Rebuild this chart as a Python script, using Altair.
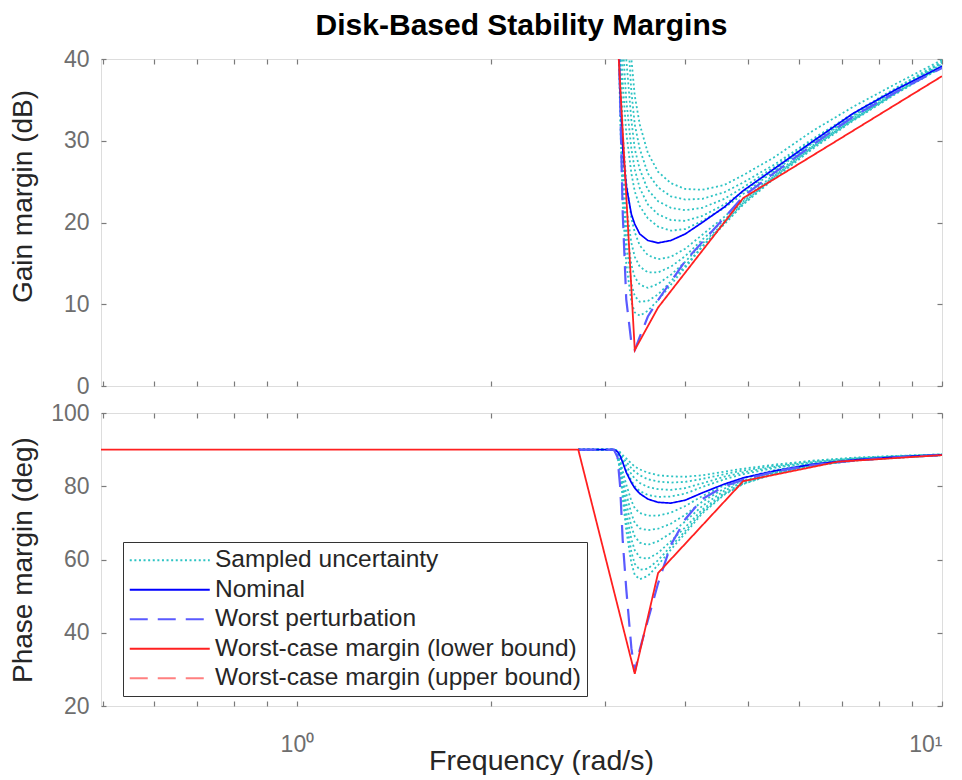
import altair as alt
import pandas as pd

FONT = "Liberation Sans"

# ---------------- data ----------------
SERIES = [
    "Sampled uncertainty",
    "Nominal",
    "Worst perturbation",
    "Worst-case margin (lower bound)",
    "Worst-case margin (upper bound)",
]
COLORS = ["#2ec4c4", "#0000ff", "#5a5aff", "#ff2020", "#ff8080"]
DASHES = [[2, 2.6], [1, 0], [18, 10], [1, 0], [18, 10]]

f_start = 0.497      # left edge of the frequency axis
f_flat = 2.73        # start of the drawn flat part for sampled / nominal / worst curves
freq_grid = [3.10, 3.14, 3.17, 3.20, 3.24, 3.30, 3.34, 3.40, 3.50, 3.63,
             3.80, 4.00, 4.25, 4.60, 4.92, 5.50, 6.30, 7.30, 8.50, 10.0]

nominal_gain = [80, 48, 36, 29, 24.5, 21.0, 19.8, 18.6, 17.8, 17.5,
                17.8, 18.6, 20.0, 21.9, 23.9, 26.6, 29.9, 33.4, 36.3, 39.1]
nominal_phase = [90, 89.5, 88.3, 86.5, 83.8, 81.0, 79.5, 78.0, 76.5, 75.6,
                 75.4, 76.2, 78.2, 80.6, 82.3, 84.2, 86.0, 87.2, 88.0, 88.6]

worst_gain = [90, 48, 35, 21, 10.6, 5.3, 4.4, 6.0, 8.5, 10.5,
              12.8, 15.3, 17.6, 20.6, 23.2, 26.1, 29.5, 33.0, 36.0, 38.9]
worst_phase = [90, 88, 80, 65, 52, 35.8, 29.3, 35.4, 43.4, 53.5,
               64, 71, 76.5, 80.0, 81.8, 84.0, 85.8, 87.0, 87.9, 88.5]

red_freq = [2.73, 3.34, 3.63, 4.92, 6.90, 10.0]
red_gain = [130, 4.4, 9.6, 23.0, 30.1, 37.9]
red_phase = [90, 28.8, 56.3, 81.4, 86.7, 88.5]

cyan_gain = [
    [99, 99, 80, 65, 52, 40, 35.5, 32, 28.5, 26.2, 24.8, 24.1, 24.0, 24.6, 25.8, 28.0, 31.2, 34.2, 37.0, 39.9],
    [99, 99, 75, 58, 46, 36, 32, 29, 26, 24.3, 23.2, 22.8, 22.9, 23.7, 24.9, 27.1, 30.2, 33.4, 36.5, 39.7],
    [99, 90, 62, 48, 40, 32.5, 29, 26.5, 24, 22.6, 21.8, 21.5, 21.8, 22.9, 24.3, 26.8, 30.0, 33.3, 36.4, 39.6],
    [99, 80, 55, 42, 35, 29, 26.5, 24.2, 22.2, 21.0, 20.3, 20.2, 20.8, 22.2, 23.8, 26.5, 29.8, 33.1, 36.3, 39.5],
    [99, 70, 48, 37, 31, 26, 23.8, 22, 20.5, 19.5, 19.0, 19.2, 20.2, 21.8, 23.5, 26.3, 29.7, 33.0, 36.2, 39.4],
    [99, 62, 42, 31, 25, 20.5, 18.8, 17.2, 16.0, 15.5, 15.8, 16.8, 18.5, 20.7, 22.8, 25.9, 29.4, 32.8, 36.0, 39.2],
    [99, 58, 39, 28, 22, 17.5, 15.8, 14.6, 13.9, 13.9, 14.6, 15.9, 17.9, 20.3, 22.6, 25.7, 29.3, 32.7, 35.9, 39.1],
    [99, 55, 37, 26, 19.5, 14.8, 13.3, 12.4, 12.0, 12.5, 13.6, 15.2, 17.4, 20.0, 22.4, 25.6, 29.2, 32.6, 35.9, 39.1],
    [99, 52, 35, 24, 17.5, 12.5, 11.0, 10.3, 10.4, 11.2, 12.8, 14.7, 17.1, 19.9, 22.3, 25.5, 29.1, 32.6, 35.8, 39.0],
    [99, 50, 33, 22, 15, 10.3, 9.0, 8.6, 9.2, 10.5, 12.4, 14.5, 17.0, 19.8, 22.2, 25.4, 29.0, 32.5, 35.8, 39.0],
]
cyan_phase = [
    [90, 89.8, 89.3, 88.5, 87.6, 86.2, 85.4, 84.6, 83.7, 83.0, 82.7, 82.6, 83.0, 84.0, 84.8, 85.9, 87.0, 87.8, 88.3, 88.7],
    [90, 89.7, 89.0, 87.9, 86.7, 84.9, 84.0, 83.0, 81.9, 81.3, 81.0, 81.2, 82.0, 83.3, 84.3, 85.6, 86.8, 87.7, 88.2, 88.7],
    [90, 89.6, 88.6, 87.2, 85.6, 83.3, 82.1, 80.9, 79.8, 79.2, 79.0, 79.5, 80.8, 82.6, 83.8, 85.3, 86.6, 87.6, 88.2, 88.7],
    [90, 89.5, 88.2, 86.4, 84.4, 81.5, 80.0, 78.7, 77.6, 77.1, 77.2, 78.0, 79.8, 81.9, 83.3, 85.0, 86.4, 87.5, 88.1, 88.6],
    [90, 89.2, 87.2, 84.0, 80.5, 76.0, 74.0, 72.7, 72.0, 72.0, 72.8, 74.6, 77.3, 80.3, 82.2, 84.4, 86.1, 87.3, 88.0, 88.6],
    [90, 89.0, 86.6, 82.5, 78.0, 72.5, 70.0, 68.5, 68.0, 68.4, 69.8, 72.2, 75.8, 79.4, 81.6, 84.0, 85.9, 87.2, 87.9, 88.5],
    [90, 88.8, 86.0, 81.0, 75.5, 69.0, 66.3, 64.6, 64.0, 65.0, 67.2, 70.4, 74.6, 78.8, 81.2, 83.8, 85.8, 87.1, 87.9, 88.5],
    [90, 88.6, 85.3, 79.5, 73.0, 65.5, 62.5, 60.6, 60.2, 61.8, 65.0, 68.8, 73.6, 78.2, 80.9, 83.6, 85.7, 87.0, 87.9, 88.5],
    [90, 88.4, 84.6, 78.0, 70.5, 62.0, 58.8, 57.2, 57.5, 59.8, 63.6, 67.8, 73.0, 77.9, 80.7, 83.5, 85.6, 87.0, 87.8, 88.5],
    [90, 88.2, 84.0, 76.5, 68.0, 59.0, 55.8, 54.6, 55.5, 58.5, 62.7, 67.2, 72.6, 77.7, 80.6, 83.4, 85.6, 87.0, 87.8, 88.5],
]

x_ticks = [0.5, 0.6, 0.7, 0.8, 0.9, 1, 2, 3, 4, 5, 6, 7, 8, 9, 10]
x_label_ticks = [1, 10]
gain_ticks = [0, 10, 20, 30, 40]
phase_ticks = [20, 40, 60, 80, 100]


# ---------------- tables ----------------
def rows(freqs, vals, series, curve):
    return [dict(freq=f, val=v, series=series, curve=curve) for f, v in zip(freqs, vals)]


def build(kind):
    cy = []
    for i in range(len(cyan_gain)):
        if kind == "gain":
            cy += rows(freq_grid, cyan_gain[i], SERIES[0], f"c{i}")
        else:
            cy += rows([f_flat] + freq_grid, [90] + cyan_phase[i], SERIES[0], f"c{i}")
    if kind == "gain":
        nom = rows(freq_grid, nominal_gain, SERIES[1], "n")
        wst = rows(freq_grid, worst_gain, SERIES[2], "w")
        red = rows(red_freq, red_gain, SERIES[3], "r")
    else:
        nom = rows([f_flat] + freq_grid, [90] + nominal_phase, SERIES[1], "n")
        wst = rows([f_flat] + freq_grid, [90] + worst_phase, SERIES[2], "w")
        red = rows([f_start] + red_freq, [90] + red_phase, SERIES[3], "r")
    return [pd.DataFrame(d) for d in (cy, nom, wst, red)]


AX_GRAY = "#7a7a7a"
LBL_GRAY = "#6e6e6e"
TXT = "#262626"


def panel(kind, ydomain, yticks, ytitle, bottom, legend, title=None, title_y=None):
    dfs = build(kind)
    xs = alt.Scale(type="log", domain=[f_start, 10], nice=False)
    ys = alt.Scale(domain=ydomain, nice=False, zero=False)

    def enc_color():
        return alt.Color("series:N", scale=alt.Scale(domain=SERIES, range=COLORS),
                         legend=legend)

    def enc_dash():
        return alt.StrokeDash("series:N", scale=alt.Scale(domain=SERIES, range=DASHES),
                              legend=legend)

    tick_axis = dict(labels=False, domain=False, ticks=True, tickSize=5, grid=False,
                     title=None, tickColor=AX_GRAY, tickWidth=1.2, offset=-5)

    xaxis_main = dict(orient="bottom", values=x_label_ticks, ticks=False, domain=False, grid=False,
                      labels=bottom, labelFont=FONT, labelFontSize=23, labelColor=LBL_GRAY,
                      labelPadding=27,
                      labelExpr="datum.value == 1 ? '10⁰' : (datum.value == 10 ? '10¹' : '')")
    if bottom:
        xaxis_main.update(title="Frequency (rad/s)", titleFont=FONT, titleFontSize=28.5,
                          titleFontWeight="normal", titleColor=TXT, titleY=40, titleX=440)
    else:
        xaxis_main.update(title=None)
    yaxis_main = dict(orient="left", values=yticks, ticks=False, domain=False, grid=False,
                      labelFont=FONT, labelFontSize=23, labelColor=LBL_GRAY, labelPadding=12,
                      title=ytitle, titleFont=FONT, titleFontSize=28, titleFontWeight="normal",
                      titleColor=TXT, titleX=-64)
    if title_y is not None:
        yaxis_main["titleY"] = title_y

    l1 = alt.Chart(dfs[0]).mark_line(clip=True, strokeWidth=1.8).encode(
        x=alt.X("freq:Q", scale=xs, axis=alt.Axis(**xaxis_main)),
        y=alt.Y("val:Q", scale=ys, axis=alt.Axis(**yaxis_main)),
        color=enc_color(), strokeDash=enc_dash(), detail="curve:N",
    )
    l2 = alt.Chart(dfs[1]).mark_line(clip=True, strokeWidth=1.7).encode(
        x=alt.X("freq:Q", scale=xs, axis=alt.Axis(orient="bottom", values=x_ticks, **tick_axis)),
        y=alt.Y("val:Q", scale=ys, axis=alt.Axis(orient="left", values=yticks, **tick_axis)),
        color=enc_color(), strokeDash=enc_dash(), detail="curve:N",
    )
    l3 = alt.Chart(dfs[2]).mark_line(clip=True, strokeWidth=2.2).encode(
        x=alt.X("freq:Q", scale=xs, axis=alt.Axis(orient="top", values=x_ticks, **tick_axis)),
        y=alt.Y("val:Q", scale=ys, axis=alt.Axis(orient="right", values=yticks, **tick_axis)),
        color=enc_color(), strokeDash=enc_dash(), detail="curve:N",
    )
    l4 = alt.Chart(dfs[3]).mark_line(clip=True, strokeWidth=1.8).encode(
        x=alt.X("freq:Q", scale=xs, axis=None),
        y=alt.Y("val:Q", scale=ys, axis=None),
        color=enc_color(), strokeDash=enc_dash(), detail="curve:N",
    )
    props = dict(width=841, height=327 if kind == "gain" else 293)
    if title is not None:
        props["title"] = title
    return alt.layer(l1, l2, l3, l4).resolve_axis(x="independent", y="independent").properties(**props)


legend_obj = alt.Legend(
    title=None, orient="none", legendX=22, legendY=129,
    symbolType="M-4,0H4", symbolSize=400, symbolOffset=28.5, symbolStrokeWidth=2,
    labelOffset=33, labelFont=FONT, labelFontSize=24.5, labelColor=TXT, labelLimit=800,
    padding=6, rowPadding=4.5, strokeColor="#333333", fillColor="white", cornerRadius=0,
)

title = alt.TitleParams("Disk-Based Stability Margins", font=FONT, fontSize=30,
                        fontWeight="bold", color="black", anchor="middle", offset=7)

top = panel("gain", [0, 40], gain_ticks, "Gain margin (dB)", False, None,
            title=title, title_y=137)
bot = panel("phase", [20, 100], phase_ticks, "Phase margin (deg)", True, legend_obj)

chart = alt.vconcat(top, bot, spacing=2).resolve_legend(
    color="independent", strokeDash="independent"
).properties(
    padding={"top": 2, "left": 0, "right": 0, "bottom": 0}
).configure_view(stroke=AX_GRAY, strokeWidth=1.5).configure(background="white")

chart.save("out.html", embed_options={"renderer": "svg", "actions": False})
